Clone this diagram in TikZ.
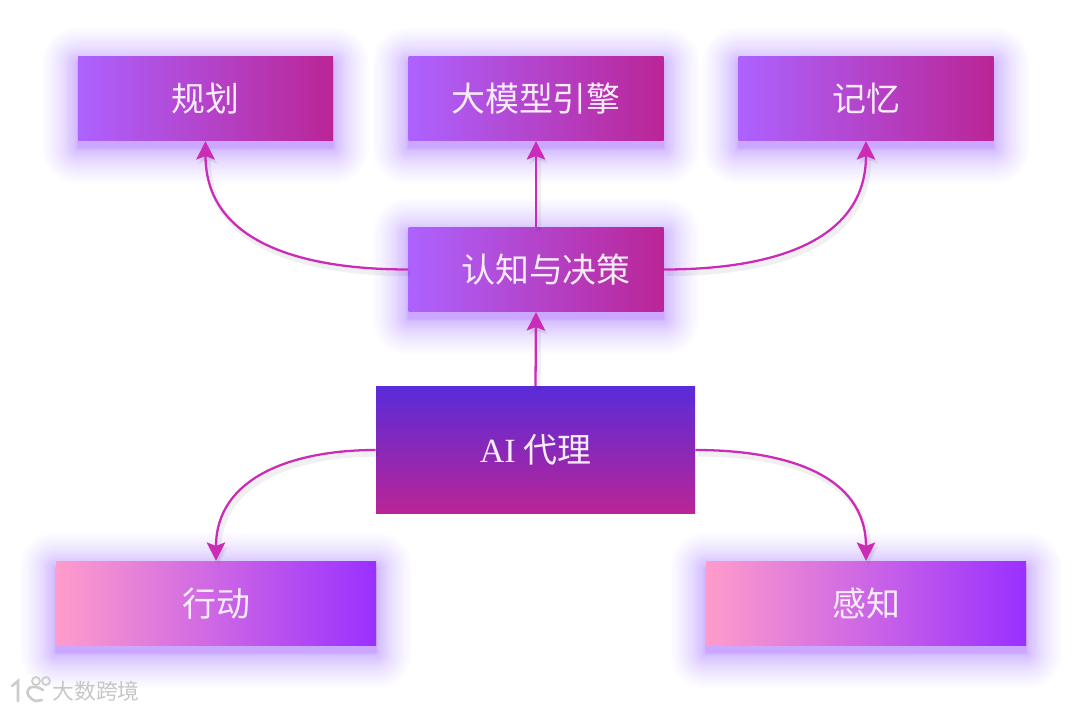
\documentclass[tikz,border=0pt]{standalone}
\usepackage{fontspec}
\setmainfont{Liberation Serif}
\newfontfamily\cjk{Noto Sans CJK SC}
\usetikzlibrary{arrows.meta,backgrounds,calc}
\definecolor{penColor}{HTML}{CB2BB6}
\definecolor{glowColor}{HTML}{A050FF}
\definecolor{textColor}{HTML}{F8ECFA}
\definecolor{violetA}{HTML}{AD62FF}
\definecolor{magentaA}{HTML}{BA2596}
\definecolor{pinkB}{HTML}{FF9CCB}
\definecolor{violetB}{HTML}{9A30FF}
\definecolor{blueC}{HTML}{5A2BD9}
\tikzset{>={Stealth[length=10.5pt,width=10.5pt,inset=2pt]}}
\tikzset{
  box/.style={inner sep=0pt,text=textColor,font=\cjk\fontsize{19.3}{23}\selectfont},
  smallbox/.style={box,minimum width=5.1cm,minimum height=1.69cm,left color=violetA,right color=magentaA},
  widebox/.style={box,minimum width=6.4cm,minimum height=1.69cm,left color=pinkB,right color=violetB},
  topbox/.style={box,minimum width=6.38cm,minimum height=2.55cm,top color=blueC,bottom color=magentaA},
  link/.style={->,penColor,line width=1.3pt,
    preaction={draw=black,opacity=.06,line width=3pt,transform canvas={shift={(.05,-.08)}}}}
}
\begin{document}
\begin{tikzpicture}
\useasboundingbox (0,0) rectangle (21.6,14.22);
\node[smallbox] (plan) at (4.11,12.25) {规划};
\node[smallbox] (model) at (10.72,12.25) {大模型引擎};
\node[smallbox] (mem) at (17.32,12.25) {记忆};
\node[smallbox] (cog) at (10.72,8.83) {\hspace{.4cm}认知与决策};
\node[topbox] (agent) at (10.71,5.22) {{\fontspec{Liberation Serif}AI} 代理};
\node[widebox] (act) at (4.32,2.15) {行动};
\node[widebox] (sense) at (17.32,2.15) {感知};
% glow under the boxes
\begin{scope}[on background layer]
\fill[white] (0,0) rectangle (21.6,14.22);
\foreach \n in {plan,model,mem,cog,act,sense}
  \foreach \i in {1,...,36}{
    \pgfmathsetmacro{\rad}{\i^2.5*.00009}
    \fill[glowColor,opacity=.016,rounded corners=\rad cm]
      ($(\n.south west)+(-\rad,-\rad-.14)$) rectangle ($(\n.north east)+(\rad,\rad-.14)$);
  }
\end{scope}
\draw[link] (cog.west) to[out=180,in=-90,looseness=1.1] (plan.south);
\draw[link] (cog.north) -- (model.south);
\draw[link] (cog.east) to[out=0,in=-90,looseness=1.1] (mem.south);
\draw[link] (agent.north) -- (cog.south);
\draw[link] (agent.west) to[out=180,in=90,looseness=1.1] (act.north);
\draw[link] (agent.east) to[out=0,in=90,looseness=1.1] (sense.north);
% watermark
\node[text=black!22,font=\cjk\fontsize{12.4}{14}\selectfont,inner sep=0pt] (mark) at (1.92,.39) {大数跨境};
\draw[black!20,line width=1.5pt,line cap=round] (.24,.5) -- (.36,.6) -- (.36,.2);
\draw[black!20,line width=1.5pt,line cap=round] (.86,.42) .. controls (.55,.62) and (.42,.3) .. (.72,.2) -- (.84,.22);
\draw[black!20,line width=1pt] (.72,.6) circle [radius=.08] (.92,.6) circle [radius=.08];
\end{tikzpicture}
\end{document}
